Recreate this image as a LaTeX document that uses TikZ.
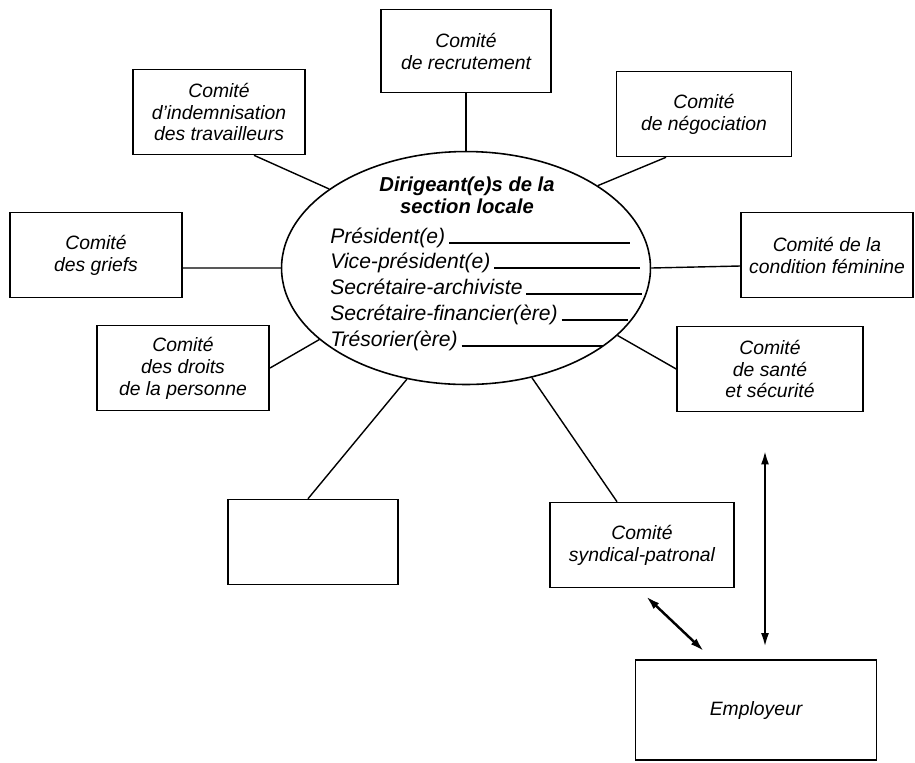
\documentclass[tikz,border=0pt]{standalone}
\usepackage{fontspec}
\setmainfont{Liberation Sans}
\usetikzlibrary{shapes.geometric, arrows.meta}

\begin{document}
\begin{tikzpicture}[x=0.02cm, y=-0.02cm,
    every node/.style={font=\itshape\fontsize{11}{12.5}\selectfont},
    comite/.style={draw, line width=0.9pt, minimum width=3.45cm, minimum height=1.7cm, align=center},
    poste/.style={anchor=base west, inner sep=0pt, font=\itshape\fontsize{12}{14}\selectfont},
    lien/.style={line width=0.8pt},
    fleche/.style={{Latex[length=8pt,width=4.5pt]}-{Latex[length=8pt,width=4.5pt]}, line width=1.4pt}]
    \useasboundingbox (0,0) rectangle (915,762);

    % dirigeants au centre
    \node[draw, ellipse, line width=0.9pt, minimum width=7.38cm, minimum height=4.66cm] (dir) at (466,268) {};
    \node[align=center, font=\bfseries\itshape\fontsize{11.5}{12.5}\selectfont] (titre) at (467,195) {Dirigeant(e)s de la\\section locale};
    \node[poste] (p1) at (330,243) {Président(e)};
    \node[poste] (p2) at (330,268) {Vice-président(e)};
    \node[poste] (p3) at (330,294) {Secrétaire-archiviste};
    \node[poste] (p4) at (330,320) {Secrétaire-financier(ère)};
    \node[poste] (p5) at (330,346) {Trésorier(ère)};
    \draw[lien] ([xshift=2pt]p1.base east) -- (630,243);
    \draw[lien] ([xshift=2pt]p2.base east) -- (640,268);
    \draw[lien] ([xshift=2pt]p3.base east) -- (642,294);
    \draw[lien] ([xshift=2pt]p4.base east) -- (628,320);
    \draw[lien] ([xshift=2pt]p5.base east) -- (603,346);

    % comites
    \node[comite, minimum width=3.4cm, minimum height=1.66cm] (recr) at (466,51) {Comité\\de recrutement};
    \node[comite] (indem) at (219,112) {Comité\\d'indemnisation\\des travailleurs};
    \node[comite, minimum width=3.5cm] (nego) at (704,114) {Comité\\de négociation};
    \node[comite] (griefs) at (96,255) {Comité\\des griefs};
    \node[comite] (femin) at (827,255) {Comité de la\\condition féminine};
    \node[comite] (droits) at (183,368) {Comité\\des droits\\de la personne};
    \node[comite, minimum width=3.72cm] (sante) at (770,369) {Comité\\de santé\\et sécurité};
    \node[comite, minimum width=3.4cm] (vide) at (313,542) {};
    \node[comite, minimum width=3.68cm] (synd) at (642,545) {Comité\\syndical-patronal};
    \node[comite, minimum width=4.82cm, minimum height=2cm] (emp) at (756,710) {Employeur};

    % liens
    \draw[lien] (recr.south) -- (dir.north);
    \draw[lien] ([xshift=0.7cm]indem.south) -- (dir.150);
    \draw[lien] ([xshift=-0.76cm]nego.south) -- (dir.32);
    \draw[lien] ([yshift=-0.26cm]griefs.east) -- (dir.west);
    \draw[lien] ([yshift=-0.22cm]femin.west) -- (dir.east);
    \draw[lien] (droits.east) -- (dir.206);
    \draw[lien] (sante.west) -- (dir.336);
    \draw[lien] ([xshift=-0.1cm]vide.north) -- (dir.242);
    \draw[lien] ([xshift=-0.5cm]synd.north) -- (dir.301);
    \draw[fleche] ([shift={(4,8)}]synd.south) -- ([shift={(-52,-8)}]emp.north);
    \draw[fleche] ([shift={(-5,38)}]sante.south) -- ([shift={(9,-12)}]emp.north);
\end{tikzpicture}
\end{document}
